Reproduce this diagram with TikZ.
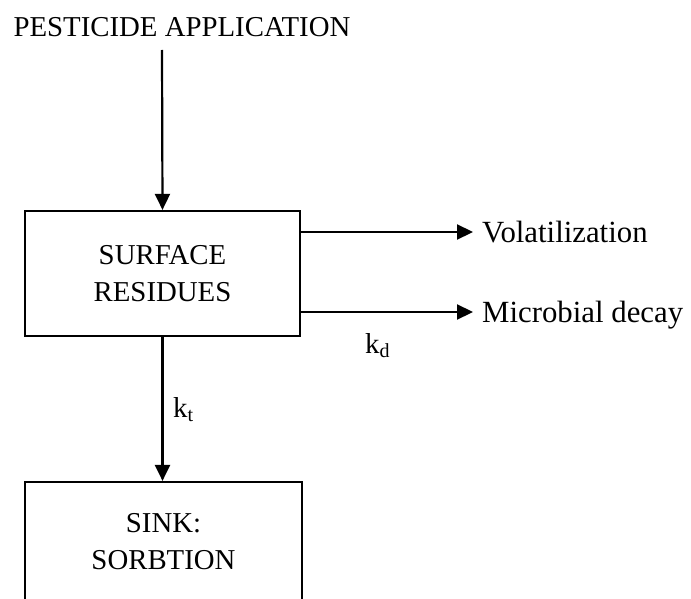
\documentclass[tikz,border=0pt]{standalone}
\usepackage{fontspec}
\setmainfont{Liberation Serif}
\usetikzlibrary{arrows.meta}
\newcommand{\ksub}[1]{\raisebox{-4pt}{\fontsize{20}{20}\selectfont #1}}
\begin{document}
\begin{tikzpicture}[x=1pt, y=-1pt,
		box/.style={draw, line width=2.2pt, align=center, font=\fontsize{28.8}{37}\selectfont},
		flow/.style={line width=2.2pt, -{Triangle[length=16pt, width=15pt]}},
		outcome/.style={anchor=west, inner xsep=9pt, inner ysep=0pt, text depth=0pt, font=\fontsize{30.8}{37}\selectfont},
		rate/.style={anchor=base west, inner sep=0pt, font=\fontsize{28.8}{37}\selectfont}]
		\useasboundingbox (0, 0) rectangle (691, 599);
		\clip (0, 0) rectangle (691, 599);
		\node[anchor=base, inner sep=0pt, font=\fontsize{28.8}{37}\selectfont] (app) at (182, 37) {PESTICIDE APPLICATION};
		\coordinate (appfoot) at (162, 50);
		\node[box, minimum width=275pt, minimum height=125pt] (surf) at (162.5, 273.5) {SURFACE\\RESIDUES};
		\node[box, minimum width=277pt, minimum height=120pt] (sink) at (163.5, 542) {SINK:\\SORBTION};
		\node[outcome] (volat) at (473, 232) {Volatilization};
		\node[outcome] (microb) at (473, 312) {Microbial decay};
		\node[rate] (kd) at (365, 353) {k\ksub{d}};
		\node[rate] (kt) at (173, 417) {k\ksub{t}};
		\draw[flow] (appfoot) -- (surf.north);
		\draw[flow] (surf.east |- volat.west) -- (volat.west);
		\draw[flow] (surf.east |- microb.west) -- (microb.west);
		\draw[flow] (surf.south) -- (surf.south |- sink.north);
	\end{tikzpicture}
\end{document}
